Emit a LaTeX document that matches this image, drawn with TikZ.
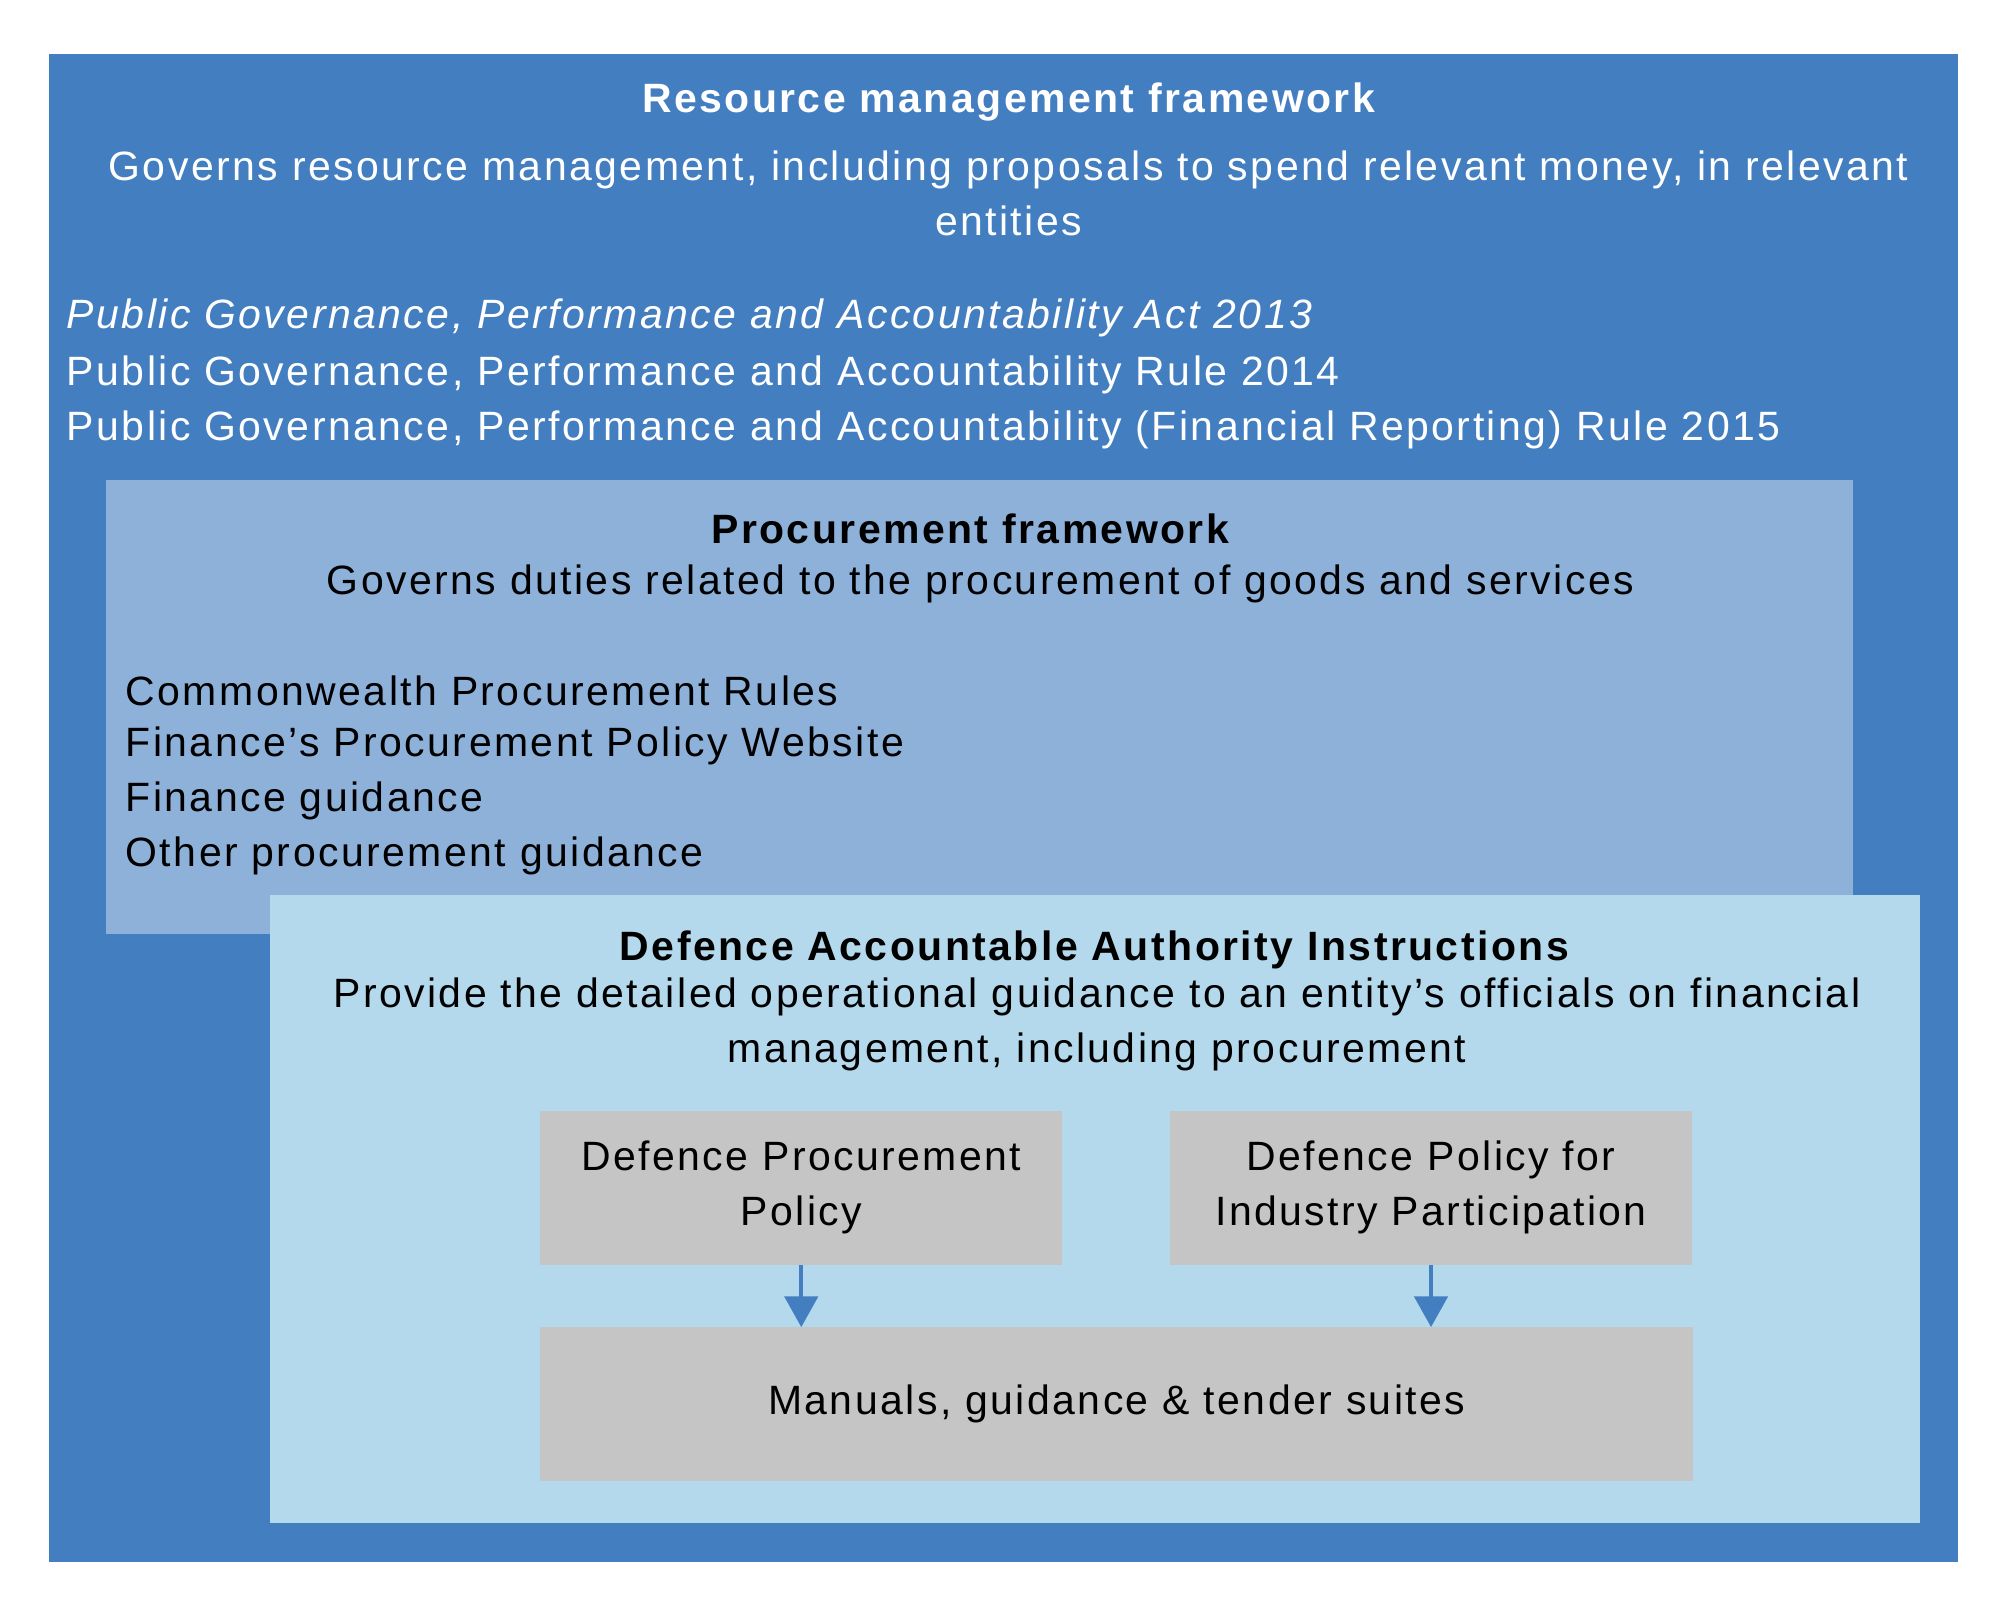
\documentclass[tikz,border=0pt]{standalone}
\usepackage{fontspec}
\setmainfont{Liberation Sans}[LetterSpace=6]
\usetikzlibrary{arrows.meta}
\definecolor{outerc}{HTML}{437EC1}
\definecolor{procc}{HTML}{8EB1DA}
\definecolor{defc}{HTML}{B4D8EC}
\definecolor{grayc}{HTML}{C5C5C5}
\begin{document}
\begin{tikzpicture}[x=1pt,y=-1pt,
  txt/.style={font=\fontsize{32}{43}\selectfont,inner sep=0pt},
  gbox/.style={fill=grayc,draw=none,txt,align=center},
  arr/.style={draw=outerc,line width=3pt,-{Triangle[length=24pt,width=26pt]}}]
\useasboundingbox (0,0) rectangle (1568,1262);
\fill[white] (0,0) rectangle (1568,1262);
\fill[outerc] (38,42) rectangle (1530,1220);
\node[txt,white,font=\fontsize{32}{43}\selectfont\bfseries] (t1) at (788,80) {Resource management framework};
\node[txt,white,align=center] (s1) at (788,151) {Governs resource management, including proposals to spend relevant money, in relevant\\entities};
\node[txt,white,anchor=west,font=\fontsize{32}{43}\selectfont\itshape] (l1) at (52,248) {Public Governance, Performance and Accountability Act 2013};
\node[txt,white,anchor=west] (l2) at (52,293) {Public Governance, Performance and Accountability Rule 2014};
\node[txt,white,anchor=west] (l3) at (52,336) {Public Governance, Performance and Accountability (Financial Reporting) Rule 2015};
\fill[procc] (83,375) rectangle (1448,730);
\node[txt,font=\fontsize{32}{43}\selectfont\bfseries] (t2) at (758,413) {Procurement framework};
\node[txt] (s2) at (766,456) {Governs duties related to the procurement of goods and services};
\node[txt,anchor=west] (p1) at (98,540) {Commonwealth Procurement Rules};
\node[txt,anchor=west] (p2) at (98,583) {Finance’s Procurement Policy Website};
\node[txt,anchor=west] (p3) at (98,626) {Finance guidance};
\node[txt,anchor=west] (p4) at (98,669) {Other procurement guidance};
\fill[defc] (211,699) rectangle (1500,1190);
\node[txt,font=\fontsize{32}{43}\selectfont\bfseries] (t3) at (855,742) {Defence Accountable Authority Instructions};
\node[txt,align=center] (s3) at (857,800) {Provide the detailed operational guidance to an entity’s officials on financial\\management, including procurement};
\node[gbox,minimum width=408pt,minimum height=120pt] (b1) at (626,928) {Defence Procurement\\Policy};
\node[gbox,minimum width=408pt,minimum height=120pt] (b2) at (1118,928) {Defence Policy for\\Industry Participation};
\node[gbox,minimum width=901pt,minimum height=120pt] (b3) at (872.5,1097) {Manuals, guidance \& tender suites};
\draw[arr] (b1.south) -- (b1.south |- b3.north);
\draw[arr] (b2.south) -- (b2.south |- b3.north);
\end{tikzpicture}
\end{document}
